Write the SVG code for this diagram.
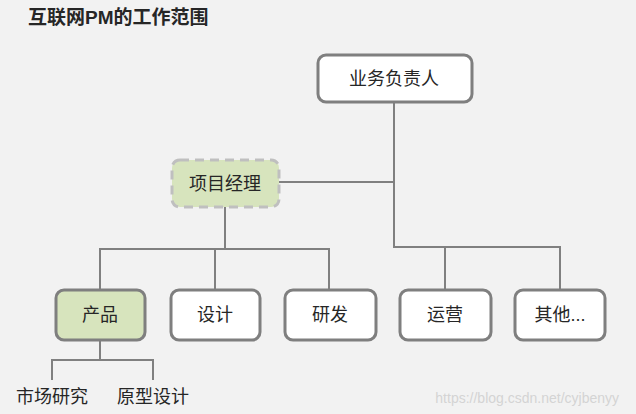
<svg xmlns="http://www.w3.org/2000/svg" width="636" height="414" viewBox="0 0 636 414">
<style>
.t{font-family:"Liberation Sans","Noto Sans CJK SC",sans-serif;font-size:18px;fill:#262626;text-anchor:middle}
.box{fill:#ffffff;stroke:#7f7f7f;stroke-width:3}
.green{fill:#d7e4bd}
.dash{stroke:#bfbfbf;stroke-dasharray:9 6}
.ln{fill:none;stroke:#808080;stroke-width:2}
</style>
<rect x="0" y="0" width="636" height="414" fill="#f2f2f2"/>
<text x="28" y="24" font-family="'Liberation Sans','Noto Sans CJK SC',sans-serif" font-size="19" font-weight="bold" fill="#262626">互联网PM的工作范围</text>
<g id="connectors">
<path class="ln" d="M394,102 V247 H560 V290"/>
<path class="ln" d="M445,247 V290"/>
<path class="ln" d="M279,182 H394"/>
<path class="ln" d="M225,207 V249"/>
<path class="ln" d="M100,290 V249 H329 V290"/>
<path class="ln" d="M215,249 V290"/>
<path class="ln" d="M100,340 V360"/>
<path class="ln" d="M52,380 V360 H153 V380"/>
</g>
<g id="n-boss">
<rect class="box" x="318" y="55" width="154" height="47" rx="8"/>
<text class="t" x="394" y="85">业务负责人</text>
</g>
<g id="n-pm">
<rect class="box green dash" x="172" y="160" width="107" height="47" rx="8"/>
<text class="t" x="225" y="190">项目经理</text>
</g>
<g id="n-product">
<rect class="box green" x="56" y="290" width="89" height="50" rx="8"/>
<text class="t" x="100" y="321">产品</text>
</g>
<g id="n-design">
<rect class="box" x="171" y="290" width="89" height="50" rx="8"/>
<text class="t" x="215" y="321">设计</text>
</g>
<g id="n-dev">
<rect class="box" x="285" y="290" width="91" height="50" rx="8"/>
<text class="t" x="330" y="321">研发</text>
</g>
<g id="n-ops">
<rect class="box" x="400" y="290" width="91" height="50" rx="8"/>
<text class="t" x="445" y="321">运营</text>
</g>
<g id="n-other">
<rect class="box" x="515" y="290" width="90" height="50" rx="8"/>
<text class="t" x="560" y="321">其他...</text>
</g>
<g id="n-market">
<text class="t" x="52" y="403">市场研究</text>
</g>
<g id="n-proto">
<text class="t" x="153" y="403">原型设计</text>
</g>
<text x="619" y="403" font-family="'Liberation Sans',sans-serif" font-size="14" fill="#d4d4d4" text-anchor="end">https://blog.csdn.net/cyjbenyy</text>
</svg>
